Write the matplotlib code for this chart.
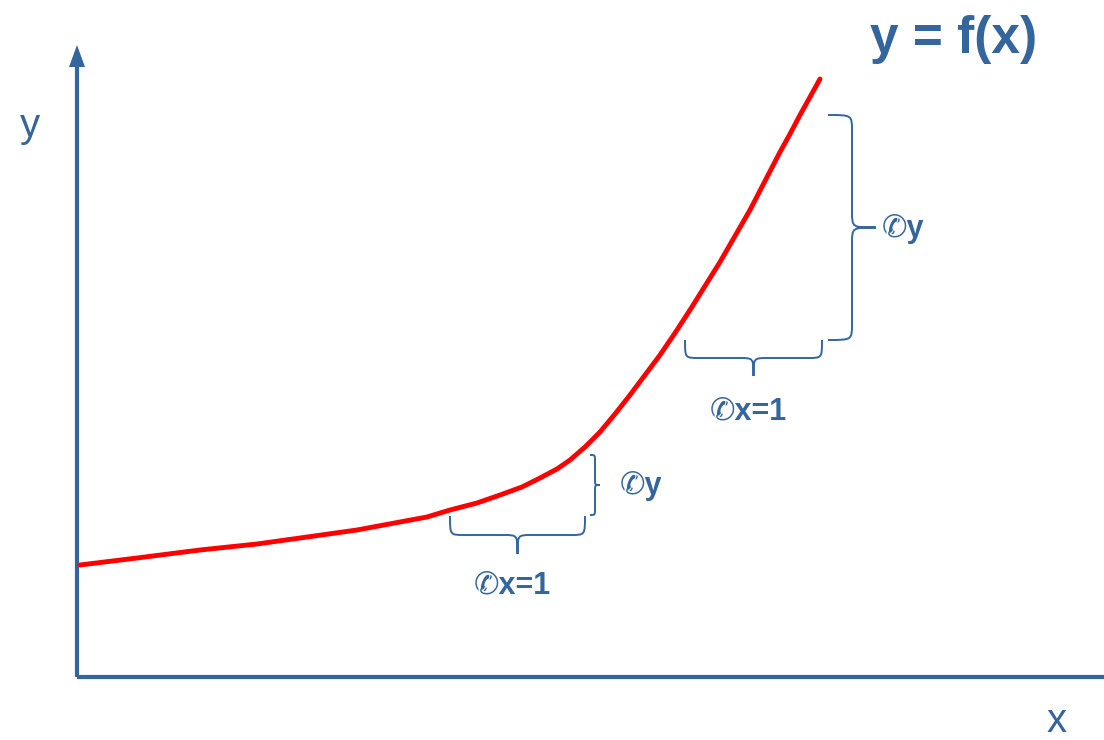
import matplotlib
matplotlib.use("Agg")
import matplotlib.pyplot as plt
from matplotlib.path import Path
from matplotlib.patches import PathPatch
import numpy as np

BLUE = "#34659C"
RED = "#FF0000"

# curve (origin at axes corner)
curve_x = [3, 60, 123, 180, 223, 280, 323, 350, 373, 400, 423, 445, 463, 480, 493, 508, 523, 538, 553, 568, 583, 598, 613, 628, 643, 658, 673, 688, 703, 713, 723, 733, 743]
curve_y = [112, 119, 127, 133, 139, 147, 155, 160, 167, 174, 182, 190, 199, 208, 217, 230, 245, 263, 282, 302, 322, 344, 367, 391, 415, 441, 467, 496, 525, 543, 562, 580, 598]

title = "y = f(x)"
xlabel = "x"
ylabel = "y"
dx_label = "\u2706x=1"
dy_label = "\u2706y"

plt.rcParams['font.family'] = ['Liberation Sans', 'DejaVu Sans']

fig = plt.figure(figsize=(11.04, 7.4), dpi=100)
ax = fig.add_axes([0, 0, 1, 1])
ax.set_xlim(-77, 1027)
ax.set_ylim(-63, 677)
ax.axis("off")

# axes
ax.plot([0, 1040], [0, 0], color=BLUE, lw=3, solid_capstyle="butt")
ax.plot([0, 0], [0, 612], color=BLUE, lw=3, solid_capstyle="butt")
ax.fill([-8, 8, 0], [610, 610, 632], color=BLUE, lw=0)

ax.plot(curve_x, curve_y, color=RED, lw=3.5, solid_capstyle="round", solid_joinstyle="round")


def brace(p0, p1, w, r=None):
    p0 = np.array(p0, float); p1 = np.array(p1, float)
    v = p1 - p0
    L = np.hypot(*v)
    t = v / L
    n = np.array([t[1], -t[0]])
    if r is None:
        r = min(w * 0.5, L * 0.2)
    pts_local = [
        (0, 0), (0, w / 2), (0, w / 2), (r, w / 2),
        (L / 2 - r, w / 2),
        (L / 2, w / 2), (L / 2, w / 2), (L / 2, w),
        (L / 2, w / 2), (L / 2, w / 2), (L / 2 + r, w / 2),
        (L - r, w / 2),
        (L, w / 2), (L, w / 2), (L, 0),
    ]
    codes = [Path.MOVETO, Path.CURVE4, Path.CURVE4, Path.CURVE4, Path.LINETO,
             Path.CURVE4, Path.CURVE4, Path.CURVE4,
             Path.CURVE4, Path.CURVE4, Path.CURVE4, Path.LINETO,
             Path.CURVE4, Path.CURVE4, Path.CURVE4]
    verts = [p0 + a * t + b * n for a, b in pts_local]
    ax.add_patch(PathPatch(Path(verts, codes), fill=False, ec=BLUE, lw=1.4))

# lower braces
brace((373, 161), (508, 161), 38, r=14)
brace((513, 162), (513, 222), 10, r=6)
# upper braces
brace((608, 337), (745, 337), 36, r=14)
brace((751, 337), (751, 562), 48, r=16)

fs = 22
ax.text(435, 92, dx_label, color=BLUE, fontsize=fs, fontweight="bold", ha="center", va="center")
ax.text(564, 191, dy_label, color=BLUE, fontsize=fs, fontweight="bold", ha="center", va="center")
ax.text(671, 266, dx_label, color=BLUE, fontsize=fs, fontweight="bold", ha="center", va="center")
ax.text(826, 448, dy_label, color=BLUE, fontsize=fs, fontweight="bold", ha="center", va="center")

ax.text(877, 638, title, color=BLUE, fontsize=37, fontweight="bold", ha="center", va="center")
ax.text(-47, 551, ylabel, color=BLUE, fontsize=29, ha="center", va="center")
ax.text(980, -44, xlabel, color=BLUE, fontsize=29, ha="center", va="center")

fig.savefig("out.png", dpi=100)
